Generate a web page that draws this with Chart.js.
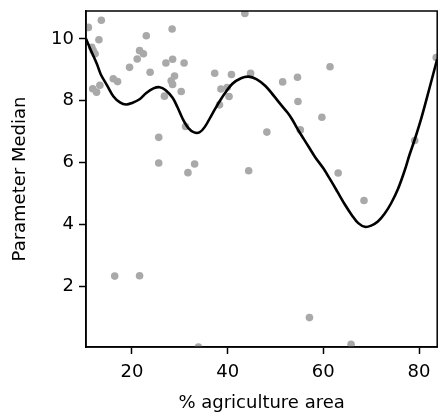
<!DOCTYPE html>
<html>
<head>
<meta charset="utf-8">
<script src="https://cdn.jsdelivr.net/npm/chart.js@4/dist/chart.umd.min.js"></script>
<style>
html,body{margin:0;padding:0;background:#fff;}
canvas{display:block;}
</style>
</head>
<body>
<canvas id="c" width="441" height="420"></canvas>
<script>
// Scatter observations (% agriculture area, parameter median)
const pointX = [10.9,13.6,13.1,11.6,11.9,12.3,11.8,12.6,13.3,16.1,17.0,19.5,21.6,22.4,21.1,23.0,23.8,28.4,27.1,28.5,30.9,28.9,28.2,28.5,30.3,26.8,31.2,25.6,25.6,33.1,31.7,16.4,21.6,33.9,37.3,40.8,38.6,39.9,40.3,38.3,43.6,44.8,44.4,48.2,51.5,54.6,54.7,55.2,59.7,61.4,63.1,57.1,65.8,68.5,79.1,83.6];
const pointY = [10.37,10.6,9.97,9.73,9.62,9.52,8.39,8.28,8.5,8.71,8.62,9.08,9.62,9.52,9.35,10.1,8.92,10.32,9.22,9.34,9.22,8.8,8.65,8.53,8.3,8.15,7.17,6.82,5.99,5.96,5.68,2.34,2.35,0.05,8.89,8.85,8.38,8.43,8.14,7.87,10.82,8.89,5.74,6.99,8.61,8.76,7.98,7.06,7.47,9.1,5.67,1.0,0.14,4.78,6.72,9.4];
// Smoothed trend curve
const curveX = [10.4,11.5,12.7,13.5,14.8,16.1,17.5,18.8,20.0,21.6,23.0,24.5,25.8,27.0,28.5,29.5,30.6,31.8,33.0,34.1,35.2,36.8,38.0,39.0,41.0,42.8,44.4,46.0,47.9,49.7,51.0,52.5,53.4,54.8,55.9,57.0,58.3,60.0,61.4,63.0,64.5,66.0,67.3,68.7,70.0,71.4,72.8,74.2,75.6,77.0,78.0,79.1,80.5,82.0,83.8];
const curveY = [10.0,9.6,9.18,8.85,8.5,8.15,7.95,7.88,7.93,8.05,8.25,8.4,8.44,8.35,8.1,7.8,7.42,7.12,6.98,6.98,7.15,7.58,7.9,8.15,8.55,8.73,8.78,8.7,8.48,8.15,7.9,7.62,7.42,7.04,6.77,6.5,6.18,5.82,5.47,5.05,4.65,4.3,4.05,3.93,3.97,4.1,4.35,4.7,5.15,5.75,6.25,6.75,7.45,8.3,9.35];
const xTicks = [20,40,60,80];
const yTicks = [2,4,6,8,10];
const xLabel = '% agriculture area';
const yLabel = 'Parameter Median';

const scatterData = pointX.map((x,i)=>({x:x,y:pointY[i]}));
const curveData = curveX.map((x,i)=>({x:x,y:curveY[i]}));

const FONT = {family:'DejaVu Sans', size:18};

const frame = {
  id:'frame',
  afterDatasetsDraw(chart){
    const {ctx, chartArea:a} = chart;
    ctx.save();
    ctx.strokeStyle = '#000';
    ctx.lineWidth = 1.5;
    ctx.strokeRect(a.left, a.top, a.right-a.left, a.bottom-a.top);
    ctx.restore();
  }
};

new Chart(document.getElementById('c'), {
  type:'scatter',
  data:{
    datasets:[
      {type:'line', data:curveData, borderColor:'#000', borderWidth:2.6, pointRadius:0, tension:0.35, fill:false, order:0, clip:0},
      {data:scatterData, backgroundColor:'#a9a9a9', borderWidth:0, pointRadius:3.8, pointHoverRadius:3.8, order:1, clip:0}
    ]
  },
  options:{
    responsive:false,
    devicePixelRatio:1,
    animation:false,
    events:[],
    layout:{padding:{top:11,right:0,left:0,bottom:0}},
    plugins:{legend:{display:false}, tooltip:{enabled:false}},
    scales:{
      x:{
        type:'linear', position:'bottom', min:10.4, max:83.8,
        afterBuildTicks(s){ s.ticks = xTicks.map(v=>({value:v})); },
        afterFit(s){ s.height = 73; s.paddingLeft = 0; s.paddingRight = 0; },
        grid:{drawOnChartArea:false, drawTicks:true, tickLength:7, tickColor:'#000', tickWidth:1.5},
        border:{display:true, color:'#000', width:1.5},
        ticks:{color:'#000', font:FONT, padding:8, maxRotation:0, autoSkip:false},
        title:{display:true, text:xLabel, color:'#000', font:FONT, padding:{top:0,bottom:6}}
      },
      y:{
        type:'linear', position:'left', min:0.05, max:10.9,
        afterBuildTicks(s){ s.ticks = yTicks.map(v=>({value:v})); },
        afterFit(s){ s.width = 86; s.paddingTop = 0; s.paddingBottom = 0; },
        grid:{drawOnChartArea:false, drawTicks:true, tickLength:7, tickColor:'#000', tickWidth:1.5},
        border:{display:true, color:'#000', width:1.5},
        ticks:{color:'#000', font:FONT, padding:5, autoSkip:false},
        title:{display:true, text:yLabel, color:'#000', font:FONT, padding:{top:10,bottom:0}}
      }
    }
  },
  plugins:[frame]
});
</script>
</body>
</html>
